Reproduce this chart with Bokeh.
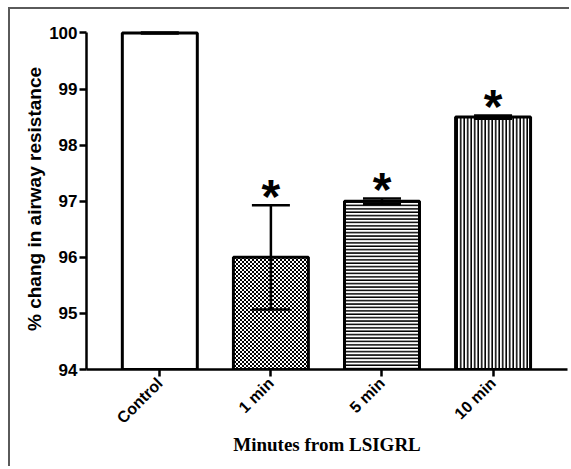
import math, zlib, struct, base64
from bokeh.plotting import figure
from bokeh.models import ColumnDataSource, FixedTicker, Whisker, TeeHead, ImageURLTexture
from bokeh.core.properties import value
from bokeh.embed import file_html
from bokeh.resources import INLINE

categories = ["Control", "1 min", "5 min", "10 min"]
means = [100.0, 96.0, 97.0, 98.5]
sems = [0.01, 0.93, 0.05, 0.03]
significant = ["", "*", "*", "*"]
y_ticks = [94, 95, 96, 97, 98, 99, 100]

# styling (fill pattern per bar)
hatches = [" ", "checker", "horizontal_line", "vertical_line"]
hatch_scale_of = {" ": 4, "checker": 4, "horizontal_line": 3.4, "vertical_line": 3.5}


def checker_png():
    B, W = b"\x00\x00\x00", b"\xff\xff\xff"
    rows = [B + B + W + W, B + B + W + W, W + W + B + B, W + W + B + B]
    raw = b"".join(b"\x00" + r for r in rows)

    def chunk(t, d):
        return struct.pack(">I", len(d)) + t + d + struct.pack(">I", zlib.crc32(t + d) & 0xffffffff)

    data = (b"\x89PNG\r\n\x1a\n" + chunk(b"IHDR", struct.pack(">IIBBBBB", 4, 4, 8, 2, 0, 0, 0))
            + chunk(b"IDAT", zlib.compress(raw)) + chunk(b"IEND", b""))
    return "data:image/png;base64," + base64.b64encode(data).decode()


checker = ImageURLTexture(url=checker_png(), repetition="repeat")

xs = list(range(len(categories)))
src = ColumnDataSource(dict(
    x=xs, top=means,
    upper=[m + s for m, s in zip(means, sems)],
    lower=[m - s for m, s in zip(means, sems)],
    star=significant, hatch=hatches,
    hscale=[hatch_scale_of[h] for h in hatches],
))

p = figure(width=561, height=459, x_range=(-0.66, 3.67), y_range=(94, 100.08),
           output_backend="svg", toolbar_location=None,
           min_border_left=76, min_border_right=4, min_border_top=19, min_border_bottom=99,
           styles={"margin-left": "8px", "margin-top": "7px",
                   "border-left": "2px solid #5a5a5a", "border-top": "2px solid #5a5a5a"})
p.outline_line_color = None
p.xgrid.visible = False
p.ygrid.visible = False

p.vbar(x="x", top="top", bottom=94, width=0.675, source=src,
       fill_color="white", line_color="black", line_width=3,
       hatch_pattern="hatch", hatch_extra={"checker": checker},
       hatch_color="black", hatch_scale="hscale", hatch_weight=1.6)

w = Whisker(base="x", upper="upper", lower="lower", source=src, level="overlay",
            line_color="black", line_width=2.5,
            upper_head=TeeHead(size=38, line_width=2.5, line_color="black"),
            lower_head=TeeHead(size=38, line_width=2.5, line_color="black"))
p.add_layout(w)

p.text(x="x", y="upper", text="star", source=src, text_align="center",
       text_baseline="middle", y_offset=-9, text_font=value("Liberation Sans"),
       text_font_style="bold", text_font_size="48px", text_color="black")

for ax in (p.xaxis[0], p.yaxis[0]):
    ax.axis_line_width = 2.5
    ax.major_tick_line_width = 2.5
    ax.major_tick_in = 0
    ax.major_tick_out = 7
    ax.minor_tick_line_color = None
    ax.major_label_text_font = "Liberation Sans"
    ax.major_label_text_font_style = "bold"
    ax.major_label_text_font_size = "17px"
    ax.major_label_text_color = "black"
    ax.axis_label_text_color = "black"

p.xaxis.major_label_text_font_size = "16px"

p.yaxis.ticker = FixedTicker(ticks=y_ticks)
p.yaxis.bounds = (94, 100)
p.yaxis.major_label_standoff = 2
p.yaxis.axis_label = "% chang in airway resistance"
p.yaxis.axis_label_text_font = "Liberation Sans"
p.yaxis.axis_label_text_font_style = "bold"
p.yaxis.axis_label_text_font_size = "19px"
p.yaxis.axis_label_standoff = 1

p.xaxis.ticker = FixedTicker(ticks=xs)
p.xaxis.major_label_overrides = {i: c for i, c in zip(xs, categories)}
p.xaxis.major_label_orientation = math.pi / 4
p.xaxis.major_label_standoff = 4
p.xaxis.axis_label = "Minutes from LSIGRL"
p.xaxis.axis_label_text_font = "Liberation Serif"
p.xaxis.axis_label_text_font_style = "bold"
p.xaxis.axis_label_text_font_size = "19px"
p.xaxis.axis_label_standoff = -2

open("out.html", "w").write(file_html(p, INLINE))
